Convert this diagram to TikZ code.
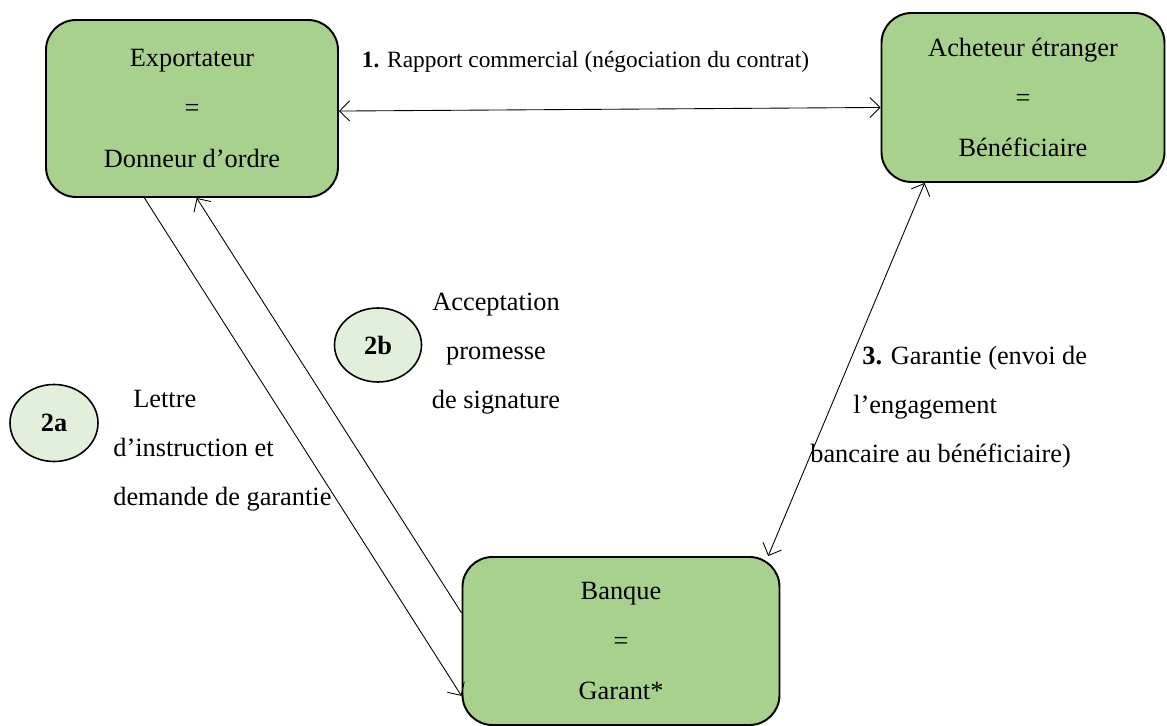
\documentclass[tikz,border=0pt]{standalone}
\usepackage{fontspec}
\setmainfont{Liberation Serif}
\usepackage{xcolor}
\usepackage{tikz}
\usetikzlibrary{shapes,arrows.meta,positioning,calc}

\definecolor{boxgreen}{HTML}{A9D18E}
\definecolor{stepgreen}{HTML}{E2EFDA}

\begin{document}
\begin{tikzpicture}[
    party/.style={rectangle, rounded corners=0.6cm, draw, line width=1.1pt, fill=boxgreen, align=center, font=\fontsize{15}{28.5}\selectfont},
    stepmark/.style={ellipse, draw, line width=0.9pt, fill=stepgreen, inner sep=0pt, font=\fontsize{15}{18}\selectfont\bfseries},
    note/.style={inner sep=0pt, font=\fontsize{15}{27.9}\selectfont},
    flow/.style={line width=0.5pt, >={Straight Barb[length=2mm, width=4mm]}}
]
\useasboundingbox (0,0) rectangle (23.34,14.52);

% Parties
\node[party, minimum width=5.84cm, minimum height=3.54cm] (exp) at (3.84,12.35) {Exportateur\\=\\Donneur d'ordre};
\node[party, minimum width=5.66cm, minimum height=3.38cm] (ach) at (20.46,12.57) {Acheteur étranger\\=\\Bénéficiaire};
\node[party, minimum width=6.34cm, minimum height=3.36cm] (bank) at (12.42,1.70) {Banque\\=\\Garant*};

% Step marks
\node[stepmark, minimum width=1.76cm, minimum height=1.54cm] (s2a) at (1.08,6.06) {2a};
\node[stepmark, minimum width=1.74cm, minimum height=1.48cm] (s2b) at (7.56,7.62) {2b};

% Labels
\node[note, font=\fontsize{13.3}{16}\selectfont] (l1) at (11.71,13.28) {\textbf{1.} Rapport commercial (négociation du contrat)};
\node[note, anchor=west, align=left] (l2a) at (2.26,5.5) {\hspace*{0.4cm}Lettre\\d'instruction et\\demande de garantie};
\node[note, align=center] (l2b) at (9.92,7.44) {Acceptation\\promesse\\de signature};
\node[note, anchor=west, align=left] (l3) at (16.2,6.38) {\hspace*{1.04cm}\textbf{3.} Garantie (envoi de\\\hspace*{0.86cm}l'engagement\\bancaire au bénéficiaire)};

% Arrows
\draw[flow, <->] (exp.-1.4) -- (ach.184.3);
\draw[flow, ->] (exp.242) -- (bank.199.4);
\draw[flow, ->] (bank.170.7) -- (exp.273.2);
\draw[flow, <->] (bank.30.5) -- (ach.221.5);

\end{tikzpicture}
\end{document}
